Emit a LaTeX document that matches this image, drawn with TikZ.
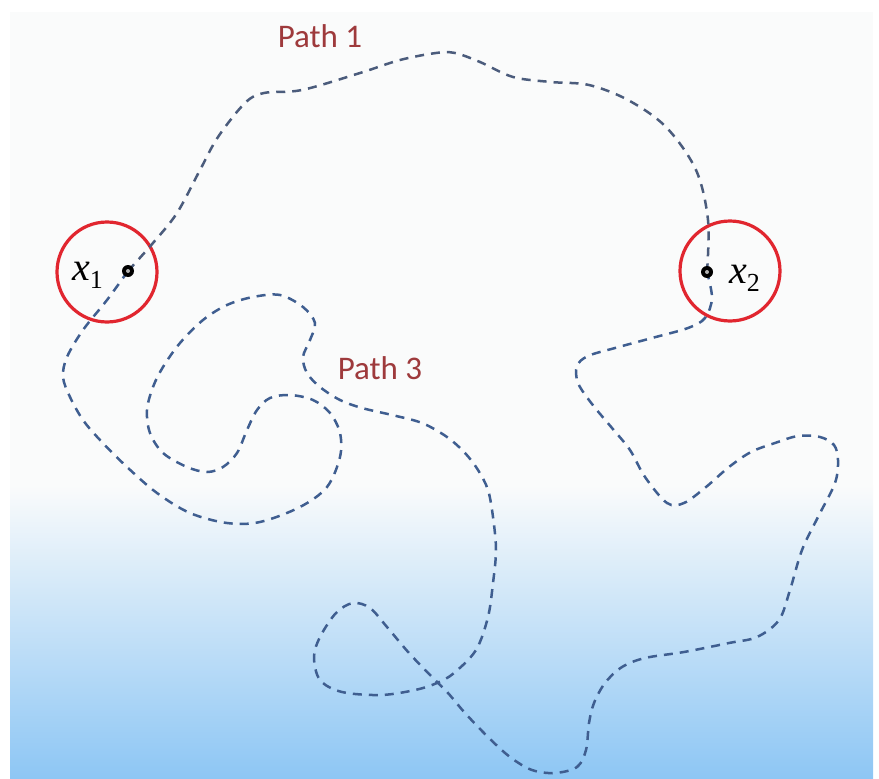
\documentclass[tikz,border=0pt]{standalone}
\usepackage{fontspec}
\newfontfamily\labelfont{Carlito}
\newfontfamily\serifletters{Liberation Serif}
\definecolor{bgtop}{HTML}{FAFBFB}
\definecolor{bgmid}{HTML}{CDE5F9}
\definecolor{bgbot}{HTML}{8DC6F4}
\definecolor{ringred}{HTML}{E1262F}
\definecolor{pathblue}{HTML}{3F5E90}
\definecolor{pathgray}{HTML}{4B5C7C}
\definecolor{titlered}{HTML}{9E3A3C}
\newcommand{\pointname}[1]{{\serifletters\fontsize{40}{40}\selectfont\itshape x}\raisebox{-8pt}{\serifletters\fontsize{26}{26}\selectfont #1}}
\tikzset{
  ring/.style={circle, draw=ringred, line width=3.2pt, minimum size=100pt, inner sep=0pt},
  dot/.style={circle, fill=black, minimum size=12pt, inner sep=0pt},
  route/.style={draw=pathblue, line width=2.5pt, dash pattern=on 9pt off 7pt},
  pathname/.style={text=titlered, font=\labelfont\fontsize{33}{33}\selectfont, inner sep=0pt},
  ptlabel/.style={inner sep=0pt, anchor=base west}
}
\begin{document}
\begin{tikzpicture}[x=1pt, y=-1pt]
\useasboundingbox (0,0) rectangle (879,779);
% backdrop: pale top fading into sky blue at the bottom
\fill[bgtop] (10,12) rectangle (873,486);
\shade[top color=bgtop, middle color=bgmid, bottom color=bgbot] (10,485) rectangle (873,779);

% the two neighbourhoods and their centre points
\node[ring] (c1) at (107,272) {};
\node[ring] (c2) at (730,271) {};
\coordinate (d1) at (128,271);
\coordinate (d2) at (707,272);

% upper route
\draw[route, draw=pathgray] plot[smooth, tension=0.55] coordinates {
  (d1) (153,243) (177,213) (200,170) (218,137) (245,103) (264,93)
  (302,90) (360,73) (400,60) (436,53) (455,53) (480,62) (513,77) (551,82)
  (589,85) (628,100) (666,127) (696,170) (708,220) (d2)};

% lower route, winding from x1 to x2
\draw[route] plot[smooth, tension=0.55] coordinates {
  (d1) (107,300) (83,330) (67,357) (63,377) (70,397) (83,420) (100,440)
  (127,467) (157,493) (190,513) (227,523) (260,522) (300,507) (327,487)
  (340,457) (340,433) (330,413) (313,400) (290,395) (270,398) (257,410)
  (247,430) (237,453) (223,467) (207,472) (187,467) (163,453) (150,433)
  (147,410) (153,387) (163,367) (180,343) (203,320) (227,305) (253,297)
  (280,295) (303,307) (315,323) (310,340) (303,357) (307,373) (320,387)
  (340,400) (362,408) (392,415) (422,423) (447,437) (465,453) (478,470)
  (488,490) (493,517) (496,550) (493,583) (488,617) (476,650) (454,673)
  (437,683) (415,690) (381,695) (342,692) (320,680) (314,657) (320,637)
  (336,613) (353,603) (370,608) (387,627) (409,653) (432,677) (448,693)
  (465,713) (488,737) (510,757) (532,770) (555,773) (577,767) (586,750)
  (589,723) (594,703) (605,683) (622,667) (645,658) (684,652) (729,643)
  (757,637) (779,620) (790,590) (802,550) (818,517) (835,483) (838,460)
  (834,445) (820,437) (798,436) (775,443) (751,452) (729,467) (706,487)
  (684,503) (667,503) (645,477) (630,450) (612,428) (592,404) (578,383)
  (577,366) (588,356) (615,348) (652,338) (688,328) (705,318) (712,298)
  (d2)};

% the points themselves, drawn over the routes
\node[dot] (p1dot) at (d1) {};
\node[dot] (p2dot) at (d2) {};
\fill[gray!60] (p1dot.center) circle[radius=2pt];
\fill[gray!60] (p2dot.center) circle[radius=2pt];

% labels
\node[ptlabel] (x1) at (72,280) {\pointname{1}};
\node[ptlabel] (x2) at (729,283) {\pointname{2}};
\node[pathname] (p1) at (320,36) {Path 1};
\node[pathname] (p3) at (380,368) {Path 3};
\end{tikzpicture}
\end{document}
